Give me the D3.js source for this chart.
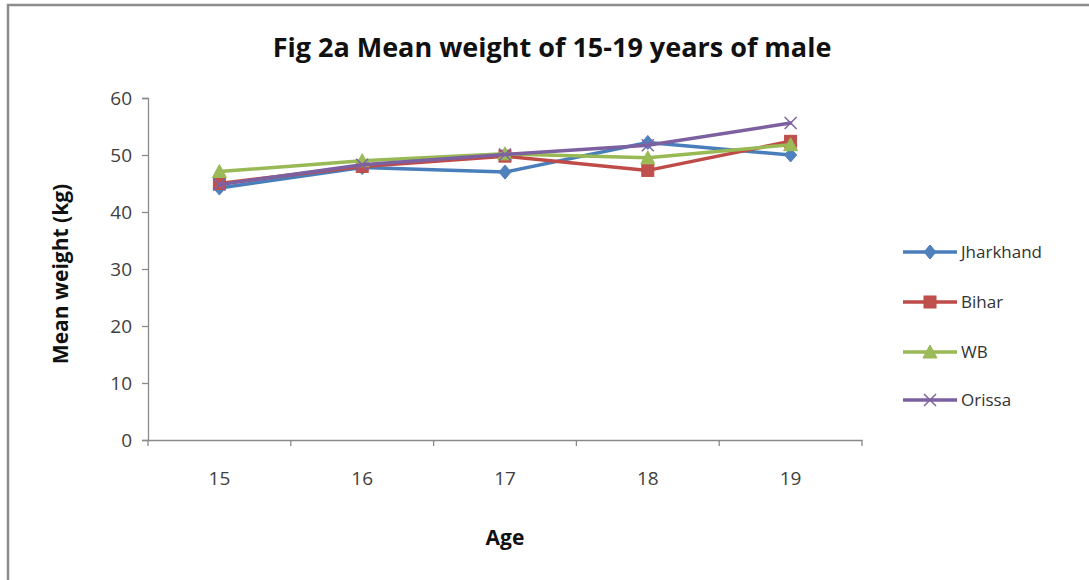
<!DOCTYPE html>
<html>
<head>
<meta charset="utf-8">
<script src="https://cdn.jsdelivr.net/npm/d3@7"></script>
<style>
  html, body { margin: 0; padding: 0; background: #fff; }
  svg { display: block; }
  text { font-family: "Open Sans", "Noto Sans", sans-serif; }
</style>
</head>
<body>
<svg id="chart" width="1089" height="580"></svg>
<script>
// Mean weight (kg) of males aged 15-19, by state
const ages = ["15", "16", "17", "18", "19"];
const jharkhand = [44.2, 47.8, 47.0, 52.2, 50.0];
const bihar     = [45.0, 48.0, 49.8, 47.3, 52.4];
const wb        = [47.1, 49.0, 50.2, 49.5, 51.8];
const orissa    = [44.8, 48.3, 50.1, 51.7, 55.6];
const yTicks = [0, 10, 20, 30, 40, 50, 60];

const series = [
  { name: "Jharkhand", values: jharkhand, line: "#4a7ebb", fill: "#4f81bd", marker: "diamond" },
  { name: "Bihar",     values: bihar,     line: "#be4b48", fill: "#c0504d", marker: "square" },
  { name: "WB",        values: wb,        line: "#98b954", fill: "#9bbb59", marker: "triangle" },
  { name: "Orissa",    values: orissa,    line: "#7d60a0", fill: "#8064a2", marker: "x" }
];

const svg = d3.select("#chart");
const plot = { left: 148, right: 862, top: 98, bottom: 440 };

// outer frame
svg.append("rect")
  .attr("x", 8).attr("y", 5)
  .attr("width", 1200).attr("height", 700)
  .attr("fill", "#fff").attr("stroke", "#8c8c8c").attr("stroke-width", 2.5);

const x = d3.scaleBand().domain(ages).range([plot.left, plot.right]);
const y = d3.scaleLinear().domain([0, 60]).range([plot.bottom, plot.top]);

// y axis
const yAxis = svg.append("g")
  .attr("transform", `translate(${plot.left},0)`)
  .call(d3.axisLeft(y).tickValues(yTicks).tickSize(6).tickPadding(10));
yAxis.select(".domain").attr("stroke", "#8a8a8a").attr("stroke-width", 1.3);
yAxis.selectAll(".tick line").attr("stroke", "#8a8a8a").attr("stroke-width", 1.3);
yAxis.selectAll(".tick text")
  .attr("fill", "#404040").style("font-size", "19px")
  .style("font-family", "'Open Sans', sans-serif");

// x axis with ticks on category boundaries
const xAxis = svg.append("g")
  .attr("transform", `translate(0,${plot.bottom})`)
  .call(d3.axisBottom(x).tickSize(0).tickPadding(32));
xAxis.select(".domain").attr("stroke", "#8a8a8a").attr("stroke-width", 1.3);
xAxis.selectAll(".tick text")
  .attr("fill", "#404040").style("font-size", "19px")
  .style("font-family", "'Open Sans', sans-serif");
const bounds = ages.map(a => x(a)).concat([x(ages[ages.length - 1]) + x.bandwidth()]);
xAxis.selectAll(".bound").data(bounds).enter().append("line")
  .attr("class", "bound")
  .attr("x1", d => d).attr("x2", d => d)
  .attr("y1", 0).attr("y2", 6)
  .attr("stroke", "#8a8a8a").attr("stroke-width", 1.3);

// title and axis titles
svg.append("text")
  .attr("x", 552).attr("y", 57)
  .attr("text-anchor", "middle")
  .style("font-size", "27px").style("font-weight", "bold").attr("fill", "#111")
  .text("Fig 2a Mean weight of 15-19 years of male");

svg.append("text")
  .attr("transform", "translate(68,274) rotate(-90)")
  .attr("text-anchor", "middle")
  .style("font-size", "21px").style("font-weight", "bold").attr("fill", "#111")
  .text("Mean weight (kg)");

svg.append("text")
  .attr("x", 505).attr("y", 545)
  .attr("text-anchor", "middle")
  .style("font-size", "21px").style("font-weight", "bold").attr("fill", "#111")
  .text("Age");

// marker drawing
function drawMarker(g, s, cx, cy) {
  if (s.marker === "diamond") {
    g.append("path").attr("d", `M${cx},${cy - 7}L${cx + 6},${cy}L${cx},${cy + 7}L${cx - 6},${cy}Z`)
      .attr("fill", s.fill).attr("stroke", s.line).attr("stroke-width", 1);
  } else if (s.marker === "square") {
    g.append("rect").attr("x", cx - 6).attr("y", cy - 6).attr("width", 12).attr("height", 12)
      .attr("fill", s.fill).attr("stroke", s.line).attr("stroke-width", 1);
  } else if (s.marker === "triangle") {
    g.append("path").attr("d", `M${cx},${cy - 7}L${cx + 7},${cy + 6}L${cx - 7},${cy + 6}Z`)
      .attr("fill", s.fill).attr("stroke", s.line).attr("stroke-width", 1);
  } else {
    g.append("path").attr("d", `M${cx - 6},${cy - 6}L${cx + 6},${cy + 6}M${cx - 6},${cy + 6}L${cx + 6},${cy - 6}`)
      .attr("fill", "none").attr("stroke", s.fill).attr("stroke-width", 1.5);
  }
}

const line = d3.line()
  .x((d, i) => x(ages[i]) + x.bandwidth() / 2)
  .y(d => y(d));

series.forEach(s => {
  const g = svg.append("g");
  g.append("path")
    .datum(s.values)
    .attr("d", line)
    .attr("fill", "none")
    .attr("stroke", s.line)
    .attr("stroke-width", 3.5)
    .attr("stroke-linejoin", "round")
    .attr("stroke-linecap", "round");
  s.values.forEach((v, i) => drawMarker(g, s, x(ages[i]) + x.bandwidth() / 2, y(v)));
});

// legend
const legendY = [252, 302, 352, 400];
series.forEach((s, i) => {
  const g = svg.append("g");
  const ly = legendY[i];
  g.append("line").attr("x1", 903).attr("x2", 957).attr("y1", ly).attr("y2", ly)
    .attr("stroke", s.line).attr("stroke-width", 3.5);
  drawMarker(g, s, 930, ly);
  g.append("text").attr("x", 961).attr("y", ly + 6)
    .style("font-size", "17px").attr("fill", "#333")
    .text(s.name);
});
</script>
</body>
</html>
